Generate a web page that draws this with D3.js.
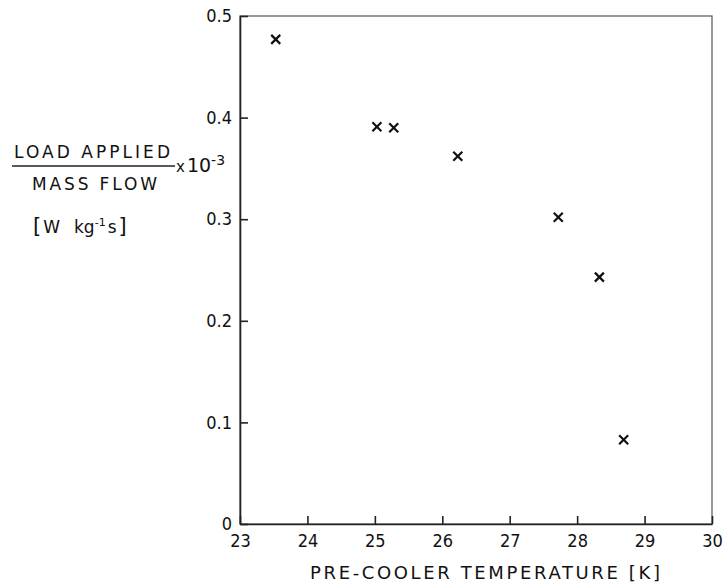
<!DOCTYPE html>
<html>
<head>
<meta charset="utf-8">
<script src="https://cdn.jsdelivr.net/npm/d3@7/dist/d3.min.js"></script>
<style>
  body { margin: 0; background: #fff; }
  svg text { font-family: "DejaVu Sans", sans-serif; fill: #111; }
  .axis path, .axis line { stroke: #222; }
</style>
</head>
<body>
<div id="chart"></div>
<script>
// pre-cooler temperature [K] and load/mass flow (x10^-3 W kg^-1 s)
var temps = [23.53, 25.03, 25.28, 26.23, 27.72, 28.33, 28.69];
var loads = [0.477, 0.391, 0.390, 0.362, 0.302, 0.243, 0.083];

var xTicks = [23, 24, 25, 26, 27, 28, 29, 30];
var yTicks = [0, 0.1, 0.2, 0.3, 0.4, 0.5];
var yTickLabels = ["0", "0.1", "0.2", "0.3", "0.4", "0.5"];

var margin = { top: 16, right: 11, bottom: 61, left: 240 },
    W = 723, H = 585,
    width = W - margin.left - margin.right,
    height = H - margin.top - margin.bottom;

var svg = d3.select("#chart").append("svg")
    .attr("width", W)
    .attr("height", H);

var g = svg.append("g")
    .attr("transform", "translate(" + margin.left + "," + margin.top + ")");

var x = d3.scaleLinear().domain([23, 30]).range([0, width]);
var y = d3.scaleLinear().domain([0, 0.5]).range([height, 0]);

// frame
g.append("rect")
    .attr("x", 0).attr("y", 0)
    .attr("width", width).attr("height", height)
    .attr("fill", "none")
    .attr("stroke", "#555")
    .attr("stroke-width", 1.2);

var xAxis = g.append("g").attr("class", "axis")
    .attr("transform", "translate(0," + height + ")")
    .call(d3.axisBottom(x).tickValues(xTicks).tickFormat(d3.format("d"))
        .tickSizeInner(-8).tickSizeOuter(0).tickPadding(10));
xAxis.selectAll("text").style("font-size", "18px").style("font-family", "DejaVu Sans Condensed, DejaVu Sans");
xAxis.select(".domain").attr("stroke-width", 1.6);

var yAxis = g.append("g").attr("class", "axis")
    .call(d3.axisLeft(y).tickValues(yTicks).tickFormat(function (d, i) { return yTickLabels[i]; })
        .tickSizeInner(-8).tickSizeOuter(0).tickPadding(8));
yAxis.selectAll("text").style("font-size", "18px").style("font-family", "DejaVu Sans Condensed, DejaVu Sans");
yAxis.select(".domain").attr("stroke-width", 1.6);
yAxis.selectAll(".tick line").attr("stroke-width", 1.6);
xAxis.selectAll(".tick line").attr("stroke-width", 1.6);

// x markers
var s = 4.5;
var pts = g.selectAll(".pt").data(temps).enter().append("g")
    .attr("class", "pt")
    .attr("transform", function (d, i) { return "translate(" + x(d) + "," + y(loads[i]) + ")"; });
pts.append("line").attr("x1", -s).attr("y1", -s).attr("x2", s).attr("y2", s)
    .attr("stroke", "#111").attr("stroke-width", 2.2);
pts.append("line").attr("x1", -s).attr("y1", s).attr("x2", s).attr("y2", -s)
    .attr("stroke", "#111").attr("stroke-width", 2.2);

// x axis title
svg.append("text")
    .attr("x", 310).attr("y", 579)
    .attr("textLength", 350).attr("lengthAdjust", "spacing")
    .style("font-size", "18px")
    .text("PRE-COOLER TEMPERATURE [K]");

// y axis title (fraction)
var yl = svg.append("g");
yl.append("text").attr("x", 14).attr("y", 158)
    .attr("textLength", 156).attr("lengthAdjust", "spacing")
    .style("font-size", "17px")
    .text("LOAD APPLIED");
yl.append("line").attr("x1", 12).attr("x2", 175).attr("y1", 166).attr("y2", 166)
    .attr("stroke", "#222").attr("stroke-width", 1.6);
yl.append("text").attr("x", 32).attr("y", 190)
    .attr("textLength", 125).attr("lengthAdjust", "spacing")
    .style("font-size", "17px")
    .text("MASS FLOW");
var mult = yl.append("text").attr("x", 176).attr("y", 172).style("font-size", "15px");
mult.append("tspan").text("x");
mult.append("tspan").attr("dx", 2).style("font-size", "19px").text("10");
mult.append("tspan").attr("dy", -7).style("font-size", "14px").text("-3");
var unit = yl.append("text").attr("x", 33).attr("y", 233).style("font-size", "17px");
unit.append("tspan").style("font-size", "21px").text("[");
unit.append("tspan").attr("dx", 2).text("W");
unit.append("tspan").attr("dx", 14).text("kg");
unit.append("tspan").attr("dy", -7).style("font-size", "11px").text("-1");
unit.append("tspan").attr("dy", 7).attr("dx", 2).text("s");
unit.append("tspan").attr("dx", 2).style("font-size", "21px").text("]");
</script>
</body>
</html>
